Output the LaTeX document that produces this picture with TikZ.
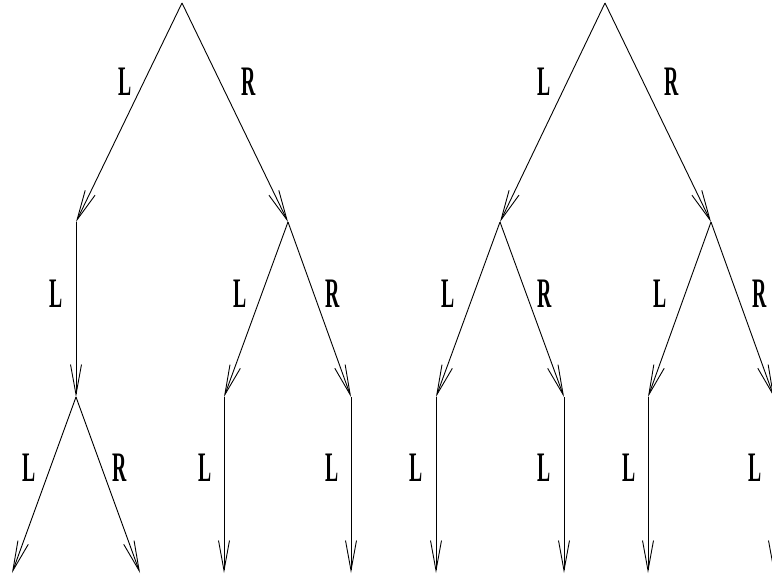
\documentclass[tikz,border=0pt]{standalone}
\usepackage{fontspec}
\setmainfont{Liberation Serif}
\usetikzlibrary{arrows.meta}
\newcommand{\lab}[1]{\scalebox{0.47}[1]{\fontsize{42}{42}\selectfont\bfseries #1}}
\begin{document}
\begin{tikzpicture}[x=1pt,y=-1pt,
  edge/.style={line width=0.9pt,-{Straight Barb[length=30pt,width=11pt,line width=0.9pt]}},
  lbl/.style={inner sep=0pt}]
\useasboundingbox (0,0) rectangle (772,575);
% left tree
\coordinate (a) at (182,3);
\coordinate (aL) at (76,222);
\coordinate (aR) at (288,222);
\coordinate (aLL) at (76,397);
\coordinate (aRL) at (224,397);
\coordinate (aRR) at (351,397);
\coordinate (aLLL) at (12,573);
\coordinate (aLLR) at (140,573);
\coordinate (aRLL) at (224,573);
\coordinate (aRRL) at (351,573);
% right tree
\coordinate (b) at (605,3);
\coordinate (bL) at (500,222);
\coordinate (bR) at (711,222);
\coordinate (bLL) at (436,397);
\coordinate (bLR) at (564,397);
\coordinate (bRL) at (648,397);
\coordinate (bRR) at (774,397);
\coordinate (bLLL) at (436,573);
\coordinate (bLRL) at (564,573);
\coordinate (bRLL) at (648,573);
\coordinate (bRRL) at (774,573);
\foreach \s/\t in {a/aL,a/aR,aL/aLL,aR/aRL,aR/aRR,aLL/aLLL,aLL/aLLR,aRL/aRLL,aRR/aRRL,
                   b/bL,b/bR,bL/bLL,bL/bLR,bR/bRL,bR/bRR,bLL/bLLL,bLR/bLRL,bRL/bRLL,bRR/bRRL}
  \draw[edge] (\s) -- (\t);
% labels
\node[lbl] (l1) at (125,82) {\lab{L}};
\node[lbl] (l2) at (249,82) {\lab{R}};
\node[lbl] (l3) at (544,82) {\lab{L}};
\node[lbl] (l4) at (672,82) {\lab{R}};
\node[lbl] (l5) at (56,294) {\lab{L}};
\node[lbl] (l6) at (240,294) {\lab{L}};
\node[lbl] (l7) at (333,294) {\lab{R}};
\node[lbl] (l8) at (448,294) {\lab{L}};
\node[lbl] (l9) at (545,294) {\lab{R}};
\node[lbl] (l10) at (660,294) {\lab{L}};
\node[lbl] (l11) at (760,294) {\lab{R}};
\node[lbl] (l12) at (29,468) {\lab{L}};
\node[lbl] (l13) at (120,468) {\lab{R}};
\node[lbl] (l14) at (205,468) {\lab{L}};
\node[lbl] (l15) at (332,468) {\lab{L}};
\node[lbl] (l16) at (416,468) {\lab{L}};
\node[lbl] (l17) at (544,468) {\lab{L}};
\node[lbl] (l18) at (629,468) {\lab{L}};
\node[lbl] (l19) at (755,468) {\lab{L}};
\end{tikzpicture}
\end{document}
